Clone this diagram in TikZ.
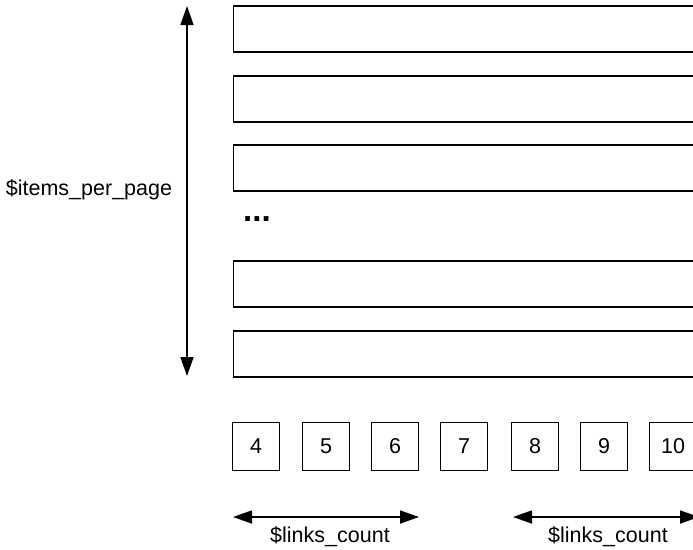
\documentclass[tikz,border=0pt]{standalone}
\usepackage{fontspec}
\setmainfont{Liberation Sans}
\usetikzlibrary{arrows.meta}
\begin{document}
\begin{tikzpicture}[x=1pt,y=-1pt,font=\fontsize{21.5}{25}\selectfont,
  row/.style={draw,rectangle,line width=1.2pt,minimum width=520pt,minimum height=46pt,anchor=west,inner sep=0pt},
  page/.style={draw,rectangle,line width=1pt,minimum width=47pt,minimum height=48pt,inner sep=0pt},
  span/.style={{Triangle[length=19pt,width=13pt]}-{Triangle[length=19pt,width=13pt]},line width=1.6pt}]
\useasboundingbox (0,0) rectangle (693,549);
\clip (0,0) rectangle (693,549);
\node[row] (r1) at (233,29) {};
\node[row] (r2) at (233,99) {};
\node[row] (r3) at (233,168) {};
\node[row] (r4) at (233,284) {};
\node[row] (r5) at (233,354) {};
\node[anchor=base west,inner sep=0pt,font=\fontsize{33}{36}\selectfont\bfseries] (dots) at (243,221) {...};
\node[page] (p4) at (256,446) {4};
\node[page] (p5) at (326,446) {5};
\node[page] (p6) at (395,446) {6};
\node[page] (p7) at (464,446) {7};
\node[page] (p8) at (535,446) {8};
\node[page] (p9) at (604,446) {9};
\node[page] (p10) at (673,446) {10};
\coordinate (ptop) at (187,6);
\coordinate (pbot) at (187,376);
\draw[span] (ptop) -- (pbot);
\node (perpage) at (89,190) {\$items\_per\_page};
\coordinate (la) at (233,517);
\coordinate (lb) at (419,517);
\coordinate (ra) at (513,517);
\coordinate (rb) at (699,517);
\draw[span] (la) -- (lb);
\draw[span] (ra) -- (rb);
\node[anchor=base] (lcount) at (330,542) {\$links\_count};
\node[anchor=base] (rcount) at (608,542) {\$links\_count};
\end{tikzpicture}
\end{document}
